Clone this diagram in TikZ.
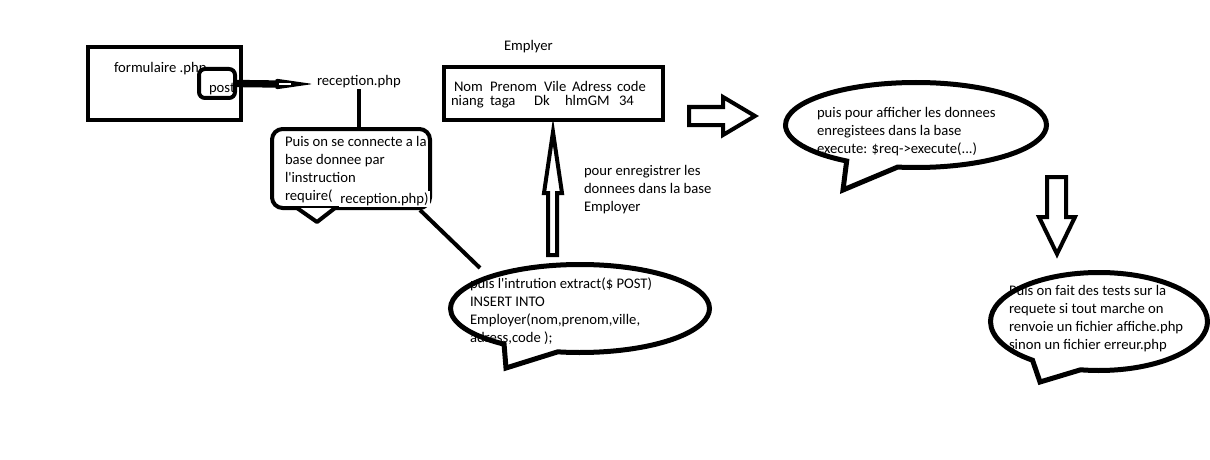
\documentclass[tikz,border=0pt]{standalone}
\usepackage{fontspec}
\setmainfont{Carlito}
\usetikzlibrary{calc}
\usetikzlibrary{shapes.callouts}

\tikzset{
 bloc/.style={draw, line width=3pt, fill=white, inner sep=0pt},
 bulle/.style={ellipse callout, draw, line width=3.75pt, fill=white, inner sep=0pt},
 fleche/.style={draw, line width=3pt, fill=white},
 txt/.style={anchor=base west, inner sep=0pt, align=left, font=\fontsize{11}{13.5}\selectfont},
}

\begin{document}
\begin{tikzpicture}[x=0.75pt, y=-0.75pt, line width=3pt]
\fill[white] (0,0) rectangle (1210,460);
\useasboundingbox (0,0) rectangle (1210,460);
\node[bloc, minimum width=114.75pt, minimum height=54.75pt] (form) at (164.5,83.5) {};
\node[txt] (formlbl) at (112,73) {formulaire .php};
\node[bloc, rounded corners=4.5pt, minimum width=27pt, minimum height=21.75pt] (post) at (217,83.5) {};
\node[txt] (postlbl) at (207,93) {post};
\node[txt] (reception) at (315,85) {reception.php};
\coordinate (wedge) at (275,84);
\draw[line width=5.5pt] (post.east) -- (wedge);
\fill[rounded corners=2pt] ($(wedge)+(0,-5.5)$) -- ($(reception.base west)+(-2,-1)$) -- ($(wedge)+(0,5.5)$) -- cycle;
\draw[white, line width=1.2pt] ($(wedge)+(4,0)$) -- ++(12,0);
\node[bloc, rounded corners=8pt, minimum width=118.5pt, minimum height=59.25pt] (rb) at (351,168.5) {};
\filldraw[fill=white, line join=round] ($(rb.south)+(-54,-2)$) -- ($(rb.south)+(-34,12)$) -- ($(rb.south)+(-16,-2)$);
\draw (reception.south) -- (reception.south |- rb.north);
\node[txt] (rbtxt) at (283,200) {Puis on se connecte a la\\base donnee par\\l\textquotesingle instruction\\require(};
\node[txt, fill=white, inner sep=1pt] (rbreq) at (337,203) {reception.php)};
\coordinate (ebtop) at (480,268);
\draw (rb.south east) ++(-12,0) -- (ebtop);
\node[bulle, minimum width=194.25pt, minimum height=66pt,
 callout absolute pointer={(506,368)}, callout pointer arc=26] (eb) at (580,308.5) {};
\node[txt] (ebtxt) at (468,342) {puis l\textquotesingle intrution extract(\$ POST)\\INSERT INTO\\Employer(nom,prenom,ville,\\adress,code  );};
\draw[fleche] (548,255) -- (548,193) -- (544,193) -- (553,132) -- (562,193) -- (557,193) -- (557,255) -- cycle;
\node[txt] (emplbl) at (502,51) {Emplyer};
\node[bloc, minimum width=164.25pt, minimum height=39.75pt] (table) at (553.5,93.5) {};
\foreach \mot/\x in {Nom/452, Prenom/488, Vile/542, Adress/570, code/615}
 \node[txt] at (\x,92) {\mot};
\foreach \mot/\x in {niang/449, taga/488, Dk/532, hlmGM/563, 34/617}
 \node[txt] at (\x,106) {\mot};
\node[txt] (pourtxt) at (582,211) {pour enregistrer les\\donnees dans la base\\Employer};
\draw[fleche] (689,107) -- (723,107) -- (723,97) -- (755,116) -- (723,135) -- (723,125) -- (689,125) -- cycle;
\node[bulle, minimum width=195.75pt, minimum height=63.75pt,
 callout absolute pointer={(843,190)}, callout pointer arc=24] (ec) at (916,125) {};
\node[txt] (ectxt) at (815,153) {puis pour afficher les donnees\\enregistees dans la base\\execute: \$req->execute(...)};
\draw[fleche] (1047,177) -- (1066,177) -- (1066,217) -- (1075,217) -- (1057,254) -- (1039,217) -- (1047,217) -- cycle;
\node[bulle, minimum width=162.75pt, minimum height=73.5pt,
 callout absolute pointer={(1040,382)}, callout pointer arc=28] (ed) at (1099,321.5) {};
\node[txt] (edtxt) at (1007,349) {Puis on fait des tests sur la\\requete si tout marche on\\renvoie un fichier affiche.php\\sinon un fichier erreur.php};
\end{tikzpicture}
\end{document}
